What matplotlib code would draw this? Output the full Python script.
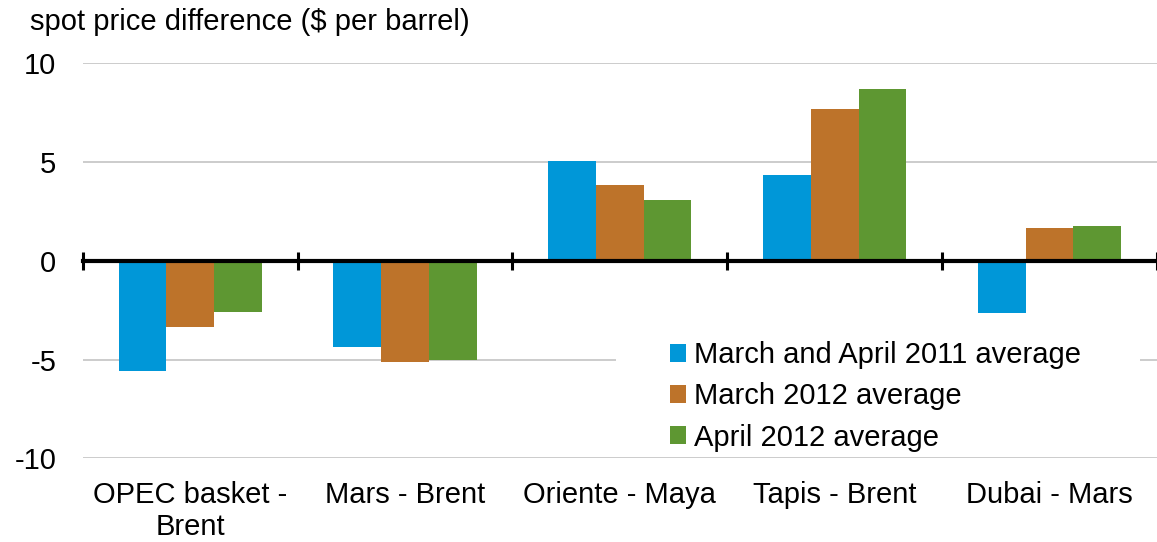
import numpy as np
import matplotlib
matplotlib.use("Agg")
import matplotlib.pyplot as plt

# ─── Data ─────────────────────────────────────────────────────────────────────
categories = ["OPEC basket -\nBrent", "Mars - Brent", "Oriente - Maya",
              "Tapis - Brent", "Dubai - Mars"]
series_names = ["March and April 2011 average", "March 2012 average",
                "April 2012 average"]
avg_2011 = [-5.6, -4.35, 5.07, 4.33, -2.65]
mar_2012 = [-3.35, -5.1, 3.86, 7.68, 1.64]
apr_2012 = [-2.6, -5.0, 3.1, 8.71, 1.78]
colors = ["#0097d8", "#bd732a", "#5e9732"]

plt.rcParams['font.family'] = ['Liberation Sans', 'DejaVu Sans']
FS = 21

fig = plt.figure(figsize=(11.57, 5.42), dpi=100)
ax = fig.add_axes([0.0715, 0.1544, 0.9285, 0.7288])

x = np.arange(len(categories))
w = 0.222
for i, (vals, name, c) in enumerate(zip([avg_2011, mar_2012, apr_2012],
                                        series_names, colors)):
    ax.bar(x + (i - 1) * w, vals, width=w, color=c, label=name, zorder=2)

ax.set_ylim(-10, 10)
ax.set_xlim(-0.5, 4.47)
ax.set_yticks([-10, -5, 0, 5, 10])
ax.set_yticklabels(["-10", "-5", "0", "5", "10"])
ax.yaxis.grid(True, color="#c8c8c8", linewidth=1.3, zorder=0)
ax.set_axisbelow(True)
for s in ax.spines.values():
    s.set_visible(False)
ax.tick_params(axis='y', length=0, pad=19, labelsize=FS)

# category labels at the bottom, zero line (top spine moved to y=0) with
# boundary ticks
ax.set_xticks(x)
ax.set_xticklabels(categories, linespacing=1.0)
ax.set_xticks(np.arange(-0.5, len(categories), 1.0), minor=True)
ax.tick_params(axis='x', which='major', length=0, pad=16, labelsize=FS,
               top=False, bottom=True)
ax.tick_params(axis='x', which='minor', top=True, bottom=False,
               direction='inout', length=13, width=2.2)
ax.spines['top'].set_visible(True)
ax.spines['top'].set_position(('data', 0))
ax.spines['top'].set_linewidth(3)
ax.spines['top'].set_zorder(3)

# white legend box hides the -5 gridline behind it
ax.axhspan(-5.4, -4.6, xmin=0.4964, xmax=0.984, color='white', lw=0, zorder=1)

leg = ax.legend(loc='upper left', bbox_to_anchor=(647 / 1157, 1 - 318 / 542),
                bbox_transform=fig.transFigure, frameon=False, fontsize=FS,
                handlelength=0.55, handleheight=0.55, handletextpad=0.25,
                labelspacing=0.45, borderpad=0.3)

fig.text(30 / 1157, 1 - 22 / 542, "spot price difference ($ per barrel)",
         fontsize=FS, va='center', ha='left')

fig.savefig("out.png", dpi=100)
